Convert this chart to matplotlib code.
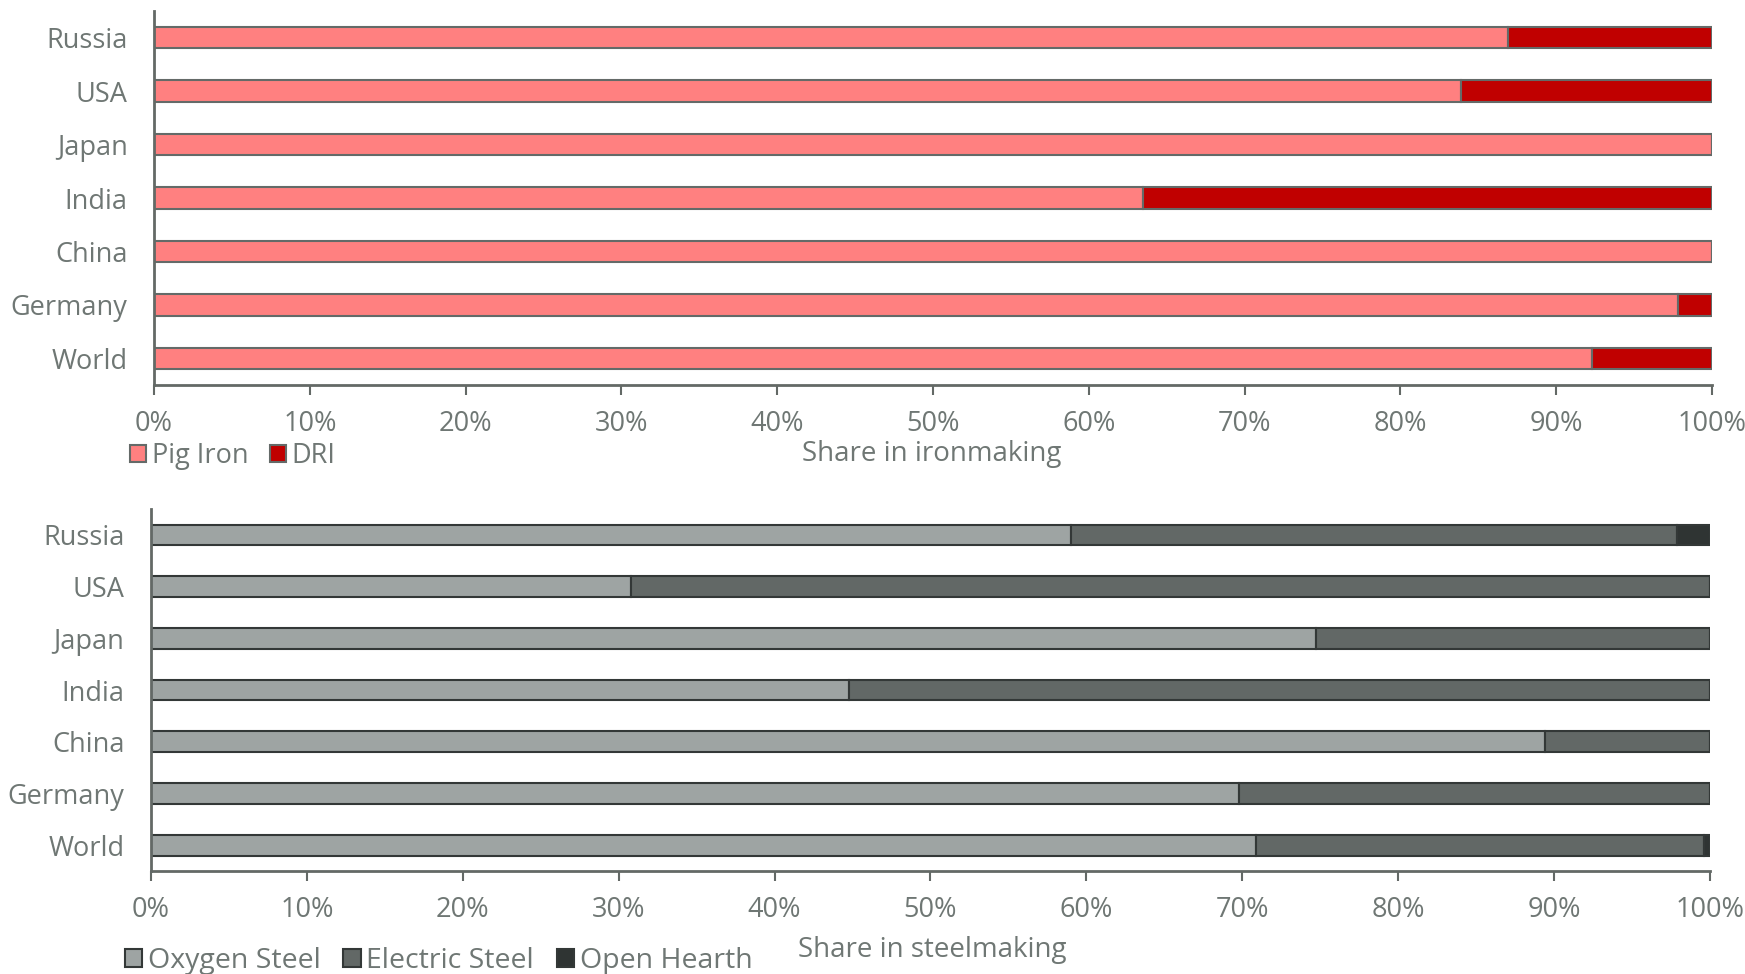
import numpy as np
import matplotlib.pyplot as plt
from matplotlib.ticker import PercentFormatter

plt.rcParams['font.family'] = ['Open Sans', 'DejaVu Sans']

countries = ["Russia", "USA", "Japan", "India", "China", "Germany", "World"]

# ironmaking shares (%)
pig_iron = [86.9, 83.9, 100.0, 63.5, 100.0, 97.8, 92.3]
dri = [13.1, 16.1, 0.0, 36.5, 0.0, 2.2, 7.7]

# steelmaking shares (%)
oxygen_steel = [59.0, 30.8, 74.7, 44.8, 89.4, 69.8, 70.9]
electric_steel = [38.9, 69.2, 25.3, 55.2, 10.6, 30.2, 28.7]
open_hearth = [2.1, 0.0, 0.0, 0.0, 0.0, 0.0, 0.4]

TEXT = "#6f7774"
SPINE = "#636966"

fig = plt.figure(figsize=(17.45, 9.74), dpi=100)
ax1 = fig.add_axes([0.0883, 0.6047, 0.8928, 0.3840])
ax2 = fig.add_axes([0.0865, 0.1057, 0.8934, 0.3717])


def stacked(ax, series, colors, labels, edge):
    y = np.arange(len(countries))
    left = np.zeros(len(countries))
    handles = []
    for vals, c, lab in zip(series, colors, labels):
        vals = np.array(vals)
        h = ax.barh(y, vals, left=left, height=0.4, color=c, edgecolor=edge,
                    linewidth=1.5, label=lab)
        handles.append(h)
        left += vals
    ax.set_yticks(y)
    ax.set_yticklabels(countries)
    ax.set_ylim(len(countries) - 0.5, -0.5)
    ax.set_xlim(0, 100)
    ax.set_xticks(np.arange(0, 101, 10))
    ax.xaxis.set_major_formatter(PercentFormatter(decimals=0))
    for s in ["top", "right"]:
        ax.spines[s].set_visible(False)
    for s in ["left", "bottom"]:
        ax.spines[s].set_color(SPINE)
        ax.spines[s].set_linewidth(2)
    ax.tick_params(axis="y", length=0, labelsize=19.5, labelcolor=TEXT, pad=19)
    ax.tick_params(axis="x", length=7, width=1.5, color=SPINE, labelsize=19.5,
                   labelcolor=TEXT, pad=11)
    return handles


h1 = stacked(ax1, [pig_iron, dri], ["#ff8080", "#c00000"], ["Pig Iron", "DRI"], "#646a68")
h2 = stacked(ax2, [oxygen_steel, electric_steel, open_hearth],
             ["#9ea4a3", "#626866", "#2f3433"],
             ["Oxygen Steel", "Electric Steel", "Open Hearth"], "#333837")

fig.text(0.534, 1 - 454 / 974, "Share in ironmaking", ha="center", va="center",
         fontsize=20, color=TEXT)
fig.text(0.534, 1 - 950 / 974, "Share in steelmaking", ha="center", va="center",
         fontsize=20, color=TEXT)

leg_kw = dict(frameon=False, labelcolor=TEXT, handlelength=0.6,
              handleheight=0.6, handletextpad=0.2, columnspacing=0.8,
              borderpad=0, borderaxespad=0)
fig.legend(handles=h1, loc="center left", bbox_to_anchor=(130 / 1745, 1 - 456 / 974),
           ncol=2, fontsize=19.5, **leg_kw)
fig.legend(handles=h2, loc="center left", bbox_to_anchor=(125 / 1745, 1 - 961 / 974),
           ncol=3, fontsize=20.5, **leg_kw)

fig.savefig("out.png", dpi=100, facecolor="white")
